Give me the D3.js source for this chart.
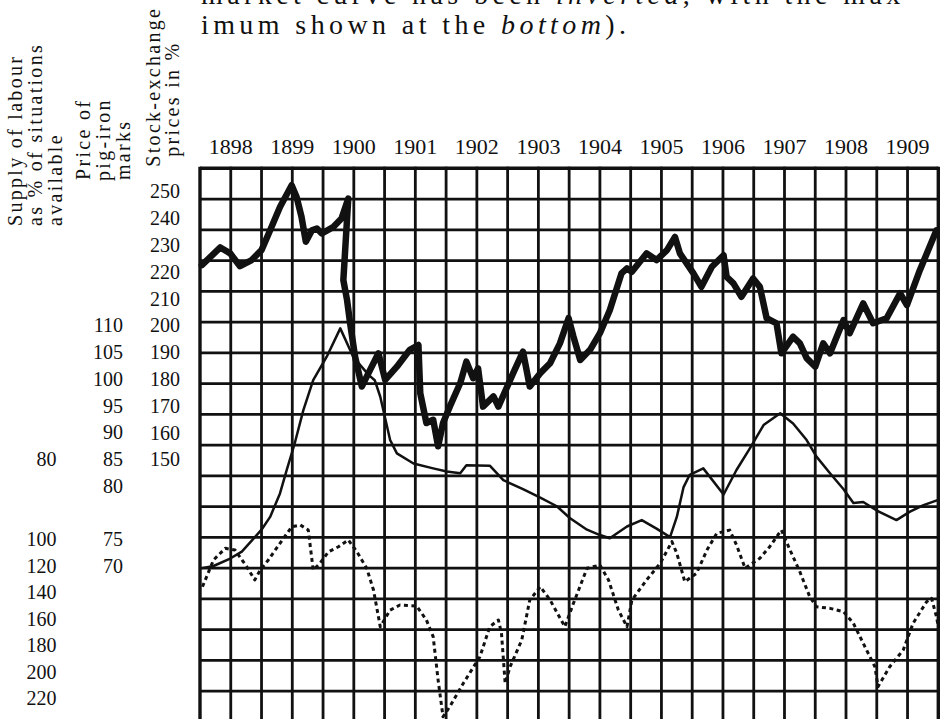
<!DOCTYPE html>
<html>
<head>
<meta charset="utf-8">
<script src="https://cdn.jsdelivr.net/npm/d3@7"></script>
<style>
  html, body { margin: 0; padding: 0; background: #fff; }
  svg { display: block; }
</style>
</head>
<body>
<svg id="chart" width="942" height="719"></svg>
<script>
// ---------- data ----------
const years = ["1898","1899","1900","1901","1902","1903","1904","1905","1906","1907","1908","1909"];

const stockTicks = [250, 240, 230, 220, 210, 200, 190, 180, 170, 160, 150];
const pigTicks = [110, 105, 100, 95, 90, 85, 80, 75, 70];
const labourTicks = [80, 100, 120, 140, 160, 180, 200, 220];

// Stock-exchange prices in % (thick line): [year, value]
const stockSeries = [
  [1898.03,222.6],[1898.33,229.2],[1898.49,227.0],[1898.65,222.2],[1898.84,224.5],
  [1899.00,228.2],[1899.14,235.6],[1899.30,244.3],[1899.49,252.4],[1899.57,248.0],
  [1899.65,240.6],[1899.72,231.3],[1899.82,235.6],[1899.90,236.3],[1899.98,234.4],
  [1900.17,236.9],[1900.30,240.0],[1900.41,247.4],[1900.33,217.0],[1900.39,209.6],
  [1900.44,200.9],[1900.52,188.5],[1900.63,177.3],[1900.71,181.0],[1900.90,189.7],
  [1901.01,179.8],[1901.20,184.7],[1901.41,191.0],[1901.55,192.8],[1901.58,174.8],
  [1901.68,163.7],[1901.79,164.9],[1901.87,155.0],[1901.95,163.7],[1902.06,169.8],
  [1902.23,178.6],[1902.33,186.6],[1902.44,180.4],[1902.52,184.1],[1902.60,169.8],
  [1902.77,173.6],[1902.85,169.8],[1903.09,182.3],[1903.25,190.3],[1903.36,177.3],
  [1903.53,182.3],[1903.69,186.0],[1903.85,193.4],[1903.99,202.8],[1904.07,195.9],
  [1904.18,187.2],[1904.34,191.0],[1904.50,197.2],[1904.66,205.8],[1904.85,219.5],
  [1904.94,221.4],[1905.02,220.1],[1905.26,227.0],[1905.42,224.5],[1905.59,228.2],
  [1905.72,233.1],[1905.80,227.0],[1906.02,219.5],[1906.15,214.5],[1906.32,222.0],
  [1906.51,226.3],[1906.56,218.2],[1906.67,215.8],[1906.80,210.8],[1906.99,217.6],
  [1907.10,214.5],[1907.21,202.8],[1907.37,200.9],[1907.45,189.7],[1907.64,195.9],
  [1907.75,193.4],[1907.86,187.9],[1908.00,184.7],[1908.13,193.4],[1908.24,189.7],
  [1908.46,202.1],[1908.56,197.2],[1908.78,208.3],[1908.94,200.9],[1909.16,202.8],
  [1909.38,212.1],[1909.49,207.7],[1909.70,220.7],[1909.97,235.6]
];

// Price of pig-iron, marks (thin line): [year, value]
const pigSeries = [
  [1898.03,69.6],[1898.22,70.0],[1898.49,71.4],[1898.68,72.7],[1899.00,75.9],
  [1899.14,77.1],[1899.30,79.3],[1899.41,83.0],[1899.54,88.0],[1899.68,94.2],
  [1899.84,99.8],[1900.06,104.2],[1900.28,109.5],[1900.49,104.2],[1900.74,100.8],
  [1900.84,99.8],[1900.93,96.7],[1901.09,88.6],[1901.20,86.1],[1901.47,84.2],
  [1901.79,83.3],[1902.01,82.7],[1902.23,82.4],[1902.33,83.9],[1902.71,83.8],
  [1902.93,81.1],[1903.25,79.7],[1903.53,78.9],[1903.80,78.1],[1904.01,77.0],
  [1904.29,75.9],[1904.50,75.4],[1904.66,75.1],[1904.94,76.2],[1905.18,76.8],
  [1905.42,76.0],[1905.64,75.2],[1905.75,77.1],[1905.86,79.9],[1905.96,82.1],
  [1906.18,83.3],[1906.51,79.2],[1906.72,83.0],[1906.94,87.1],[1907.16,91.4],
  [1907.43,93.6],[1907.64,91.7],[1907.86,88.6],[1908.02,85.5],[1908.24,82.4],
  [1908.46,79.7],[1908.62,78.4],[1908.78,78.5],[1909.00,77.7],[1909.32,76.8],
  [1909.54,77.6],[1909.76,78.2],[1910.00,78.7]
];

// Supply of labour as % of situations available (dotted, inverted): [year, value]
const labourSeries = [
  [1898.04,135.8],[1898.22,115.6],[1898.41,106.8],[1898.57,108.1],[1898.76,120.7],
  [1898.89,130.7],[1898.98,123.2],[1899.11,115.6],[1899.30,103.0],[1899.49,96.9],
  [1899.63,96.4],[1899.76,97.7],[1899.84,123.2],[1899.95,118.1],[1900.09,109.4],
  [1900.25,105.6],[1900.41,100.5],[1900.55,109.4],[1900.71,121.9],[1900.82,138.3],
  [1900.93,166.0],[1901.09,153.4],[1901.25,149.6],[1901.52,150.3],[1901.68,160.9],
  [1901.79,173.5],[1901.87,206.2],[1901.95,233.9],[1902.06,226.3],[1902.28,208.7],
  [1902.55,188.6],[1902.71,166.0],[1902.85,160.9],[1902.90,170.9],[1902.96,208.7],
  [1903.04,196.2],[1903.23,176.0],[1903.36,145.8],[1903.53,135.8],[1903.69,145.8],
  [1903.93,166.0],[1904.07,148.3],[1904.29,121.9],[1904.50,119.4],[1904.64,130.7],
  [1904.80,153.4],[1904.94,166.0],[1905.02,145.8],[1905.26,130.7],[1905.48,118.1],
  [1905.67,101.8],[1905.75,110.6],[1905.88,132.0],[1906.07,125.7],[1906.24,108.1],
  [1906.40,98.5],[1906.61,97.7],[1906.72,104.3],[1906.86,121.9],[1907.10,114.3],
  [1907.26,105.6],[1907.45,97.7],[1907.59,108.1],[1907.75,124.5],[1907.91,143.3],
  [1908.02,150.9],[1908.24,152.1],[1908.46,154.6],[1908.62,163.4],[1908.78,178.5],
  [1908.97,196.2],[1909.02,211.2],[1909.21,196.2],[1909.43,183.5],[1909.59,163.4],
  [1909.81,147.1],[1909.89,144.5],[1909.97,158.4],[1910.00,166.0]
];

// ---------- layout ----------
const FONT = "'Liberation Serif', 'DejaVu Serif', 'Times New Roman', serif";
const svg = d3.select("#chart").attr("font-family", FONT);
const plotLeft = 200, plotRight = 938.3, plotTop = 168.3, cell = 30.75;

const x = d3.scaleLinear().domain([1898, 1910]).range([plotLeft, plotRight]);
const yStock = d3.scaleLinear().domain([150, 250]).range([459.7, 191.7]);
const yPig = d3.scaleLinear().domain([70, 75, 80, 110]).range([566, 539.3, 486, 325.7]);
const yLab = d3.scaleLinear().domain([80, 100, 220]).range([459.3, 539.3, 698.3]);
const gridRow = d3.scaleLinear().domain([0, 1]).range([plotTop, plotTop + cell]);

// ---------- grid ----------
const grid = svg.append("g").attr("stroke", "#111").attr("fill", "none");
const rows = d3.range(0, 18);
grid.selectAll("line.h").data(rows).join("line")
  .attr("x1", plotLeft).attr("x2", plotRight)
  .attr("y1", d => gridRow(d)).attr("y2", d => gridRow(d))
  .attr("stroke-width", d => d === 0 ? 3.6 : 2.8);
const cols = d3.range(1898, 1910.001, 0.5);
grid.selectAll("line.v").data(cols).join("line")
  .attr("x1", d => x(d)).attr("x2", d => x(d))
  .attr("y1", plotTop - 1.5).attr("y2", 725)
  .attr("stroke-width", (d, i) => (i === 0 || i === cols.length - 1) ? 3.4 : 2.8);

// ---------- curves ----------
const lineStock = d3.line().x(d => x(d[0])).y(d => yStock(d[1]));
const linePig = d3.line().x(d => x(d[0])).y(d => yPig(d[1]));
const lineLab = d3.line().x(d => x(d[0])).y(d => yLab(d[1]));

svg.append("path").datum(labourSeries).attr("d", lineLab)
  .attr("fill", "none").attr("stroke", "#111").attr("stroke-width", 3)
  .attr("stroke-dasharray", "4,3.5").attr("stroke-linejoin", "round");
svg.append("path").datum(pigSeries).attr("d", linePig)
  .attr("fill", "none").attr("stroke", "#111").attr("stroke-width", 2.5)
  .attr("stroke-linejoin", "round").attr("stroke-linecap", "round");
svg.append("path").datum(stockSeries).attr("d", lineStock)
  .attr("fill", "none").attr("stroke", "#111").attr("stroke-width", 6.5)
  .attr("stroke-linejoin", "round").attr("stroke-linecap", "round");

// ---------- year labels ----------
svg.append("g").selectAll("text").data(years).join("text")
  .attr("x", d => x(+d + 0.5)).attr("y", 154)
  .attr("text-anchor", "middle").attr("font-size", 22).attr("fill", "#111")
  .text(d => d);

// ---------- tick labels ----------
function ticks(vals, scale, xr) {
  svg.append("g").selectAll("text").data(vals).join("text")
    .attr("x", xr).attr("y", d => scale(d) + 6.7)
    .attr("text-anchor", "end").attr("font-size", 20).attr("fill", "#111")
    .text(d => d);
}
ticks(stockTicks, yStock, 180);
ticks(pigTicks, yPig, 123);
ticks(labourTicks, yLab, 56.5);

// ---------- axis titles (rotated) ----------
const titles = [
  ["Supply of labour", 21.5, 226],
  ["as % of situations", 42, 226],
  ["available", 62, 226],
  ["Price of", 90, 180],
  ["pig-iron", 110, 181],
  ["marks", 130, 180],
  ["Stock-exchange", 160, 166.7],
  ["prices in %", 179, 156.7]
];
svg.append("g").selectAll("text").data(titles).join("text")
  .attr("transform", d => `translate(${d[1]},${d[2]}) rotate(-90)`)
  .attr("font-size", 20).attr("letter-spacing", 2.3).attr("fill", "#111")
  .text(d => d[0]);

// ---------- caption text (continues from above the picture, cut at the top as in the source) ----------
const cap1 = svg.append("text").attr("x", 201).attr("y", 4)
  .attr("font-size", 28).attr("letter-spacing", 4.4).attr("fill", "#111");
cap1.append("tspan").text("market curve has been ");
cap1.append("tspan").attr("font-style", "italic").text("inverted");
cap1.append("tspan").text(", with the max");
const cap2 = svg.append("text").attr("x", 201).attr("y", 33.5)
  .attr("font-size", 28).attr("letter-spacing", 4.4).attr("fill", "#111");
cap2.append("tspan").text("imum shown at the ");
cap2.append("tspan").attr("font-style", "italic").text("bottom");
cap2.append("tspan").text(").");
</script>
</body>
</html>
